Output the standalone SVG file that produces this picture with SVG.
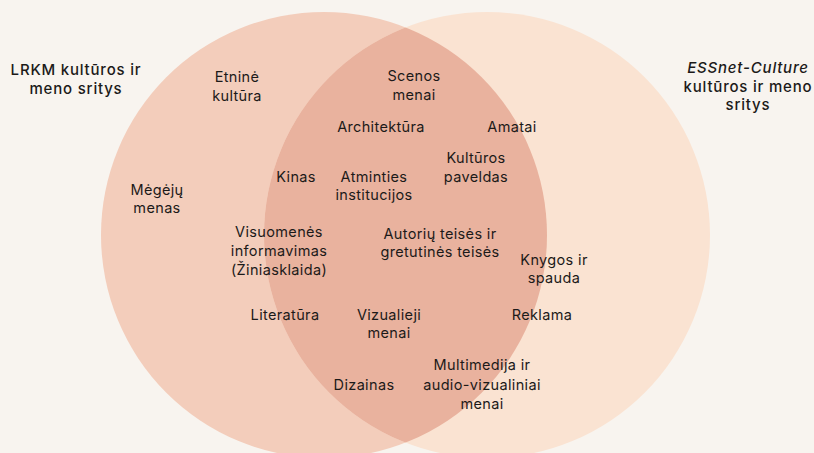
<svg xmlns="http://www.w3.org/2000/svg" width="814" height="453" viewBox="0 0 814 453">
<defs>
<style>
.t{font-family:Inter,"Open Sans","Liberation Sans",sans-serif;font-size:14.5px;letter-spacing:0.35px;fill:#1c1a19;text-anchor:middle}
.h{font-family:Inter,"Open Sans","Liberation Sans",sans-serif;font-size:15px;font-weight:500;letter-spacing:0.8px;fill:#1c1a19;text-anchor:middle}
</style>
<clipPath id="clipL"><circle cx="324" cy="235" r="223"/></clipPath>
</defs>
<rect width="814" height="453" fill="#f8f4ef"/>
<g id="circle-lrkm"><circle cx="324" cy="235" r="223" fill="#f3cdbb"/></g>
<g id="circle-essnet"><circle cx="487" cy="235" r="223" fill="#fae3d2"/></g>
<g id="overlap"><circle cx="487" cy="235" r="223" fill="#e9b29e" clip-path="url(#clipL)"/></g>
<g id="connectors"></g>
<g id="label-lrkm"><text class="h" x="76" y="75">LRKM kultūros ir</text><text class="h" x="76" y="93.5">meno sritys</text></g>
<g id="label-essnet"><text class="h" x="748" y="73"><tspan font-style="italic">ESSnet-Culture</tspan></text><text class="h" x="748" y="91.5">kultūros ir meno</text><text class="h" x="748" y="110">sritys</text></g>
<g id="n-etnine"><text class="t" x="237" y="82">Etninė</text><text class="t" x="237" y="101">kultūra</text></g>
<g id="n-megeju"><text class="t" x="157" y="195">Mėgėjų</text><text class="t" x="157" y="213">menas</text></g>
<g id="n-scenos"><text class="t" x="414" y="81">Scenos</text><text class="t" x="414" y="100">menai</text></g>
<g id="n-architektura"><text class="t" x="381" y="132">Architektūra</text></g>
<g id="n-amatai"><text class="t" x="512" y="132">Amatai</text></g>
<g id="n-kulturos-paveldas"><text class="t" x="476" y="163">Kultūros</text><text class="t" x="476" y="182">paveldas</text></g>
<g id="n-kinas"><text class="t" x="296" y="182">Kinas</text></g>
<g id="n-atminties"><text class="t" x="374" y="182">Atminties</text><text class="t" x="374" y="200">institucijos</text></g>
<g id="n-visuomenes"><text class="t" x="279" y="237">Visuomenės</text><text class="t" x="279" y="256">informavimas</text><text class="t" x="279" y="275">(Žiniasklaida)</text></g>
<g id="n-autoriu"><text class="t" x="440" y="239">Autorių teisės ir</text><text class="t" x="440" y="257">gretutinės teisės</text></g>
<g id="n-knygos"><text class="t" x="554" y="265">Knygos ir</text><text class="t" x="554" y="283">spauda</text></g>
<g id="n-literatura"><text class="t" x="285" y="320">Literatūra</text></g>
<g id="n-vizualieji"><text class="t" x="389" y="320">Vizualieji</text><text class="t" x="389" y="338">menai</text></g>
<g id="n-reklama"><text class="t" x="542" y="320">Reklama</text></g>
<g id="n-multimedija"><text class="t" x="482" y="370">Multimedija ir</text><text class="t" x="482" y="390">audio-vizualiniai</text><text class="t" x="482" y="409">menai</text></g>
<g id="n-dizainas"><text class="t" x="364" y="390">Dizainas</text></g>
</svg>
